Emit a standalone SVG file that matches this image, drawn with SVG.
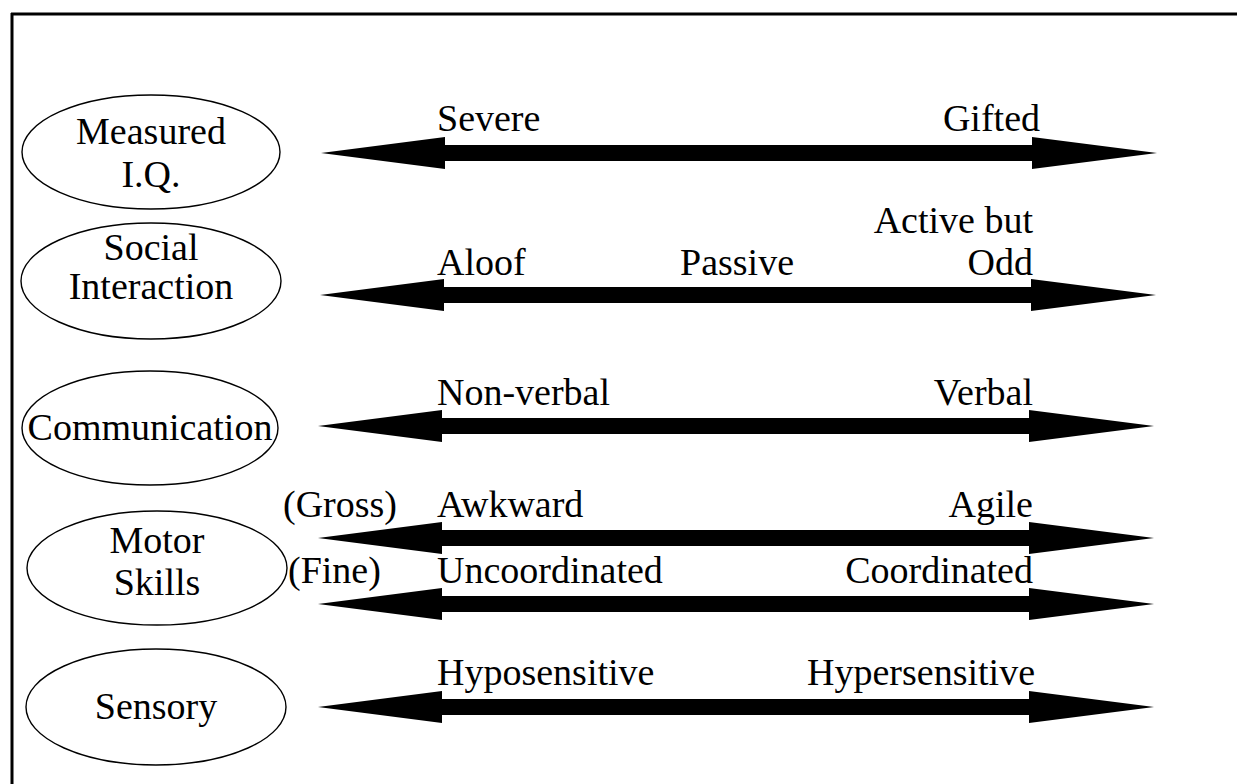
<svg xmlns="http://www.w3.org/2000/svg" width="1237" height="784" viewBox="0 0 1237 784">
<style>
text{font-family:"Liberation Serif","Times New Roman",serif;font-size:38px;fill:#000}
.m{text-anchor:middle}
.e{text-anchor:end}
ellipse{fill:#fff;stroke:#000;stroke-width:1.4}
.arr{fill:#000}
</style>
<defs>
<polygon id="dbl" points="0,0 124,-16 124,-8 711,-8 711,-16 836,0 711,16 711,8 124,8 124,16"/>
</defs>
<rect width="1237" height="784" fill="#fff"/>
<g id="frame"><line x1="11" y1="14" x2="1237" y2="14" stroke="#000" stroke-width="3"/><line x1="12" y1="13" x2="12" y2="784" stroke="#000" stroke-width="3"/></g>
<g id="node-iq"><ellipse cx="151" cy="152" rx="129" ry="57"/><text class="m" x="151" y="144">Measured</text><text class="m" x="151" y="187">I.Q.</text></g>
<g id="node-social"><ellipse cx="151" cy="281" rx="130" ry="58"/><text class="m" x="151" y="260">Social</text><text class="m" x="151" y="299">Interaction</text></g>
<g id="node-comm"><ellipse cx="150" cy="428" rx="128" ry="57"/><text class="m" x="150" y="440">Communication</text></g>
<g id="node-motor"><ellipse cx="157" cy="568" rx="130" ry="57"/><text class="m" x="157" y="553">Motor</text><text class="m" x="157" y="595">Skills</text></g>
<g id="node-sensory"><ellipse cx="156" cy="707" rx="130" ry="58"/><text class="m" x="156" y="719">Sensory</text></g>
<g id="connectors" class="arr">
<use href="#dbl" x="321" y="153"/>
<use href="#dbl" x="320" y="295"/>
<use href="#dbl" x="318" y="426"/>
<use href="#dbl" x="318" y="538"/>
<use href="#dbl" x="318" y="604"/>
<use href="#dbl" x="318" y="707"/>
</g>
<g id="labels">
<text x="437" y="131">Severe</text><text class="e" x="1040" y="131">Gifted</text>
<text class="e" x="1033" y="233">Active but</text><text class="e" x="1033" y="275">Odd</text>
<text x="437" y="275">Aloof</text><text x="680" y="275">Passive</text>
<text x="437" y="405">Non-verbal</text><text class="e" x="1033" y="405">Verbal</text>
<text x="283" y="517">(Gross)</text><text x="437" y="517">Awkward</text><text class="e" x="1033" y="517">Agile</text>
<text x="288" y="583">(Fine)</text><text x="437" y="583">Uncoordinated</text><text class="e" x="1033" y="583">Coordinated</text>
<text x="437" y="685">Hyposensitive</text><text class="e" x="1035" y="685">Hypersensitive</text>
</g>
</svg>
